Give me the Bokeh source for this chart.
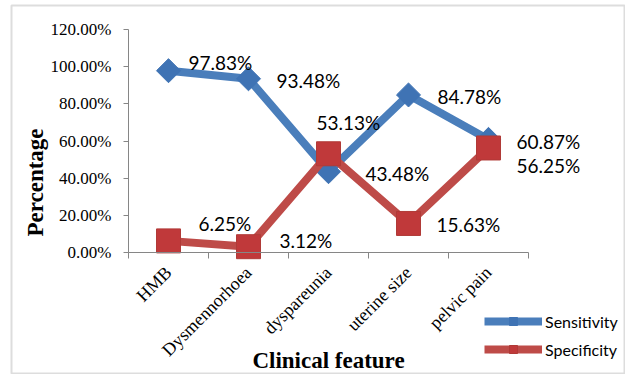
import numpy as np
from bokeh.plotting import figure
from bokeh.models import (FixedTicker, PrintfTickFormatter, Legend, ColumnDataSource, Range1d,
                          Label, BoxAnnotation)
from bokeh.embed import file_html
from bokeh.resources import INLINE

categories = ["HMB", "Dysmennorhoea", "dyspareunia", "uterine size", "pelvic pain"]
sensitivity = [97.83, 93.48, 43.48, 84.78, 60.87]
specificity = [6.25, 3.12, 53.13, 15.63, 56.25]
y_ticks = [0, 20, 40, 60, 80, 100, 120]

# label offsets (screen px), layout only
sens_dx = [20, 28, 37, 29, 28]
sens_dy = [-8, 2, 2, 2, 2]
spec_dx = [30, 31, -12, 28, 28]
spec_dy = [-17, -6, -31, 1, 18]

BLUE = "#4a7ebb"
BLUE_M = "#3f73b4"
RED = "#be4b48"
RED_M = "#c0393a"
SERIF = "Liberation Serif"
SANS = "Lato"

# layout (pixels): figure size, where the axes origin sits, px per unit
W, H = 625, 374
ORIGIN_X, ORIGIN_Y = 128, 252      # from figure's left / top
PX_X = 80.0
PX_Y = 223.0 / 120.0


def dx(px):
    return (px - ORIGIN_X) / PX_X


def dy(py):
    return (ORIGIN_Y - py) / PX_Y


xs = list(np.arange(len(categories)) + 0.5)

p = figure(width=W, height=H, output_backend="svg", toolbar_location=None,
           x_range=Range1d(dx(0), dx(W)), y_range=Range1d(dy(H), dy(0)),
           min_border=0, min_border_left=0, min_border_right=0,
           min_border_top=0, min_border_bottom=0)
p.outline_line_color = None
p.xgrid.grid_line_color = None
p.ygrid.grid_line_color = None

# outer chart border
p.add_layout(BoxAnnotation(left=dx(11), right=dx(624), top=dy(5), bottom=dy(373),
                           fill_alpha=0, line_color="#8f8f8f", line_width=2))

# Y axis
p.yaxis.fixed_location = 0
p.yaxis.bounds = (y_ticks[0], y_ticks[-1])
p.yaxis.ticker = FixedTicker(ticks=y_ticks)
p.yaxis.formatter = PrintfTickFormatter(format="%.2f%%")
p.yaxis.axis_line_color = "#868686"
p.yaxis.major_tick_line_color = "#868686"
p.yaxis.major_tick_out = 5
p.yaxis.major_tick_in = 0
p.yaxis.minor_tick_line_color = None
p.yaxis.major_label_standoff = 12
p.yaxis.major_label_text_font = SERIF
p.yaxis.major_label_text_font_size = "17px"
p.yaxis.major_label_text_color = "black"

p.add_layout(Label(x=dx(35), y=dy(182), text="Percentage", angle=np.pi / 2,
                   text_font=SERIF, text_font_style="bold", text_font_size="23px",
                   text_color="black", text_align="center", text_baseline="middle"))

# X axis
p.xaxis.fixed_location = 0
p.xaxis.bounds = (0, len(categories))
p.xaxis.ticker = FixedTicker(ticks=xs, minor_ticks=list(range(len(categories) + 1)))
p.xaxis.major_label_overrides = {float(x): c for x, c in zip(xs, categories)}
p.xaxis.major_label_orientation = np.pi / 4
p.xaxis.major_tick_line_color = None
p.xaxis.major_tick_out = 6
p.xaxis.minor_tick_line_color = "#868686"
p.xaxis.minor_tick_out = 6
p.xaxis.minor_tick_in = 0
p.xaxis.axis_line_color = "#868686"
p.xaxis.major_label_text_font = SERIF
p.xaxis.major_label_text_font_size = "18px"
p.xaxis.major_label_text_color = "black"
p.xaxis.major_label_standoff = 11
p.xaxis.axis_label = "Clinical feature"
p.xaxis.axis_label_text_font = SERIF
p.xaxis.axis_label_text_font_style = "bold"
p.xaxis.axis_label_text_font_size = "23px"
p.xaxis.axis_label_text_color = "black"
p.xaxis.axis_label_standoff = -22

src = ColumnDataSource(dict(x=xs, sens=sensitivity, spec=specificity,
                            sens_t=[f"{v:.2f}%" for v in sensitivity],
                            spec_t=[f"{v:.2f}%" for v in specificity],
                            sdx=sens_dx, sdy=sens_dy, pdx=spec_dx, pdy=spec_dy))

l1 = p.line("x", "sens", source=src, line_color=BLUE, line_width=8, line_join="round")
m1 = p.scatter("x", "sens", source=src, marker="square", angle=np.pi / 4, size=17,
               fill_color=BLUE_M, line_color=BLUE_M)
l2 = p.line("x", "spec", source=src, line_color=RED, line_width=8, line_join="round")
m2 = p.scatter("x", "spec", source=src, marker="square", size=24,
               fill_color=RED_M, line_color="#b03a37")

p.text("x", "sens", text="sens_t", source=src, x_offset="sdx", y_offset="sdy",
       text_font={"value": SANS}, text_font_size="19px", text_color="black",
       text_align="left", text_baseline="middle")
p.text("x", "spec", text="spec_t", source=src, x_offset="pdx", y_offset="pdy",
       text_font={"value": SANS}, text_font_size="19px", text_color="black",
       text_align="left", text_baseline="middle")

legend = Legend(items=[("Sensitivity", [l1, m1]), ("Specificity", [l2, m2])],
                location=(484, H - 359), orientation="vertical",
                glyph_width=58, glyph_height=20, spacing=8, padding=0, margin=0,
                label_standoff=3, label_text_font=SANS, label_text_font_size="16px",
                label_text_color="black", border_line_color=None,
                background_fill_alpha=0)
p.add_layout(legend, "center")

open("out.html", "w").write(file_html(p, INLINE))
